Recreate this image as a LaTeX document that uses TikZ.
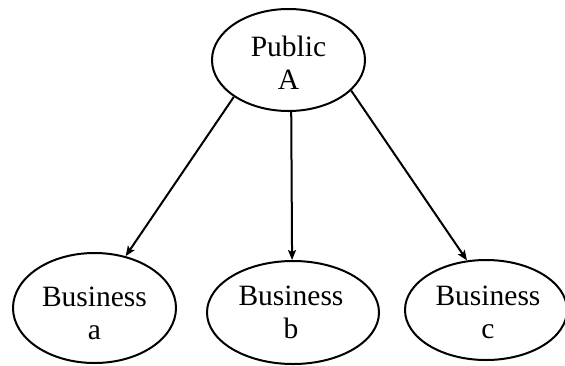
\documentclass[tikz,border=0pt]{standalone}
\usepackage{fontspec}
\setmainfont{Liberation Serif}
\usetikzlibrary{shapes.geometric,arrows.meta}
\begin{document}
\begin{tikzpicture}[x=1pt,y=-1pt,
  entity/.style={draw,ellipse,line width=2pt,inner sep=0pt},
  caption/.style={align=center,inner sep=0pt,font=\fontsize{29.5}{33}\selectfont},
  link/.style={line width=2pt,-{Stealth[length=10pt,width=8pt,inset=2pt]}}]
  \useasboundingbox (0,0) rectangle (565,365);
  \node[entity,minimum width=153pt,minimum height=102pt,
    label={[caption,yshift=-3pt]center:Public\\A}] (pub) at (288.5,60) {};
  \node[entity,minimum width=163pt,minimum height=110pt,
    label={[caption,yshift=-5pt]center:Business\\a}] (ba) at (94.5,308) {};
  \node[entity,minimum width=172pt,minimum height=103pt,
    label={[caption,xshift=-2pt]center:Business\\b}] (bb) at (293,312.5) {};
  \node[entity,minimum width=162pt,minimum height=100pt,
    label={[caption,xshift=2pt,yshift=-2pt]center:Business\\c}] (bc) at (486,310) {};
  \draw[link] (pub.214) -- (ba.59);
  \draw[link] (pub.273.5) -- (bb.91);
  \draw[link] (pub.334) -- (bc.111);
\end{tikzpicture}
\end{document}
